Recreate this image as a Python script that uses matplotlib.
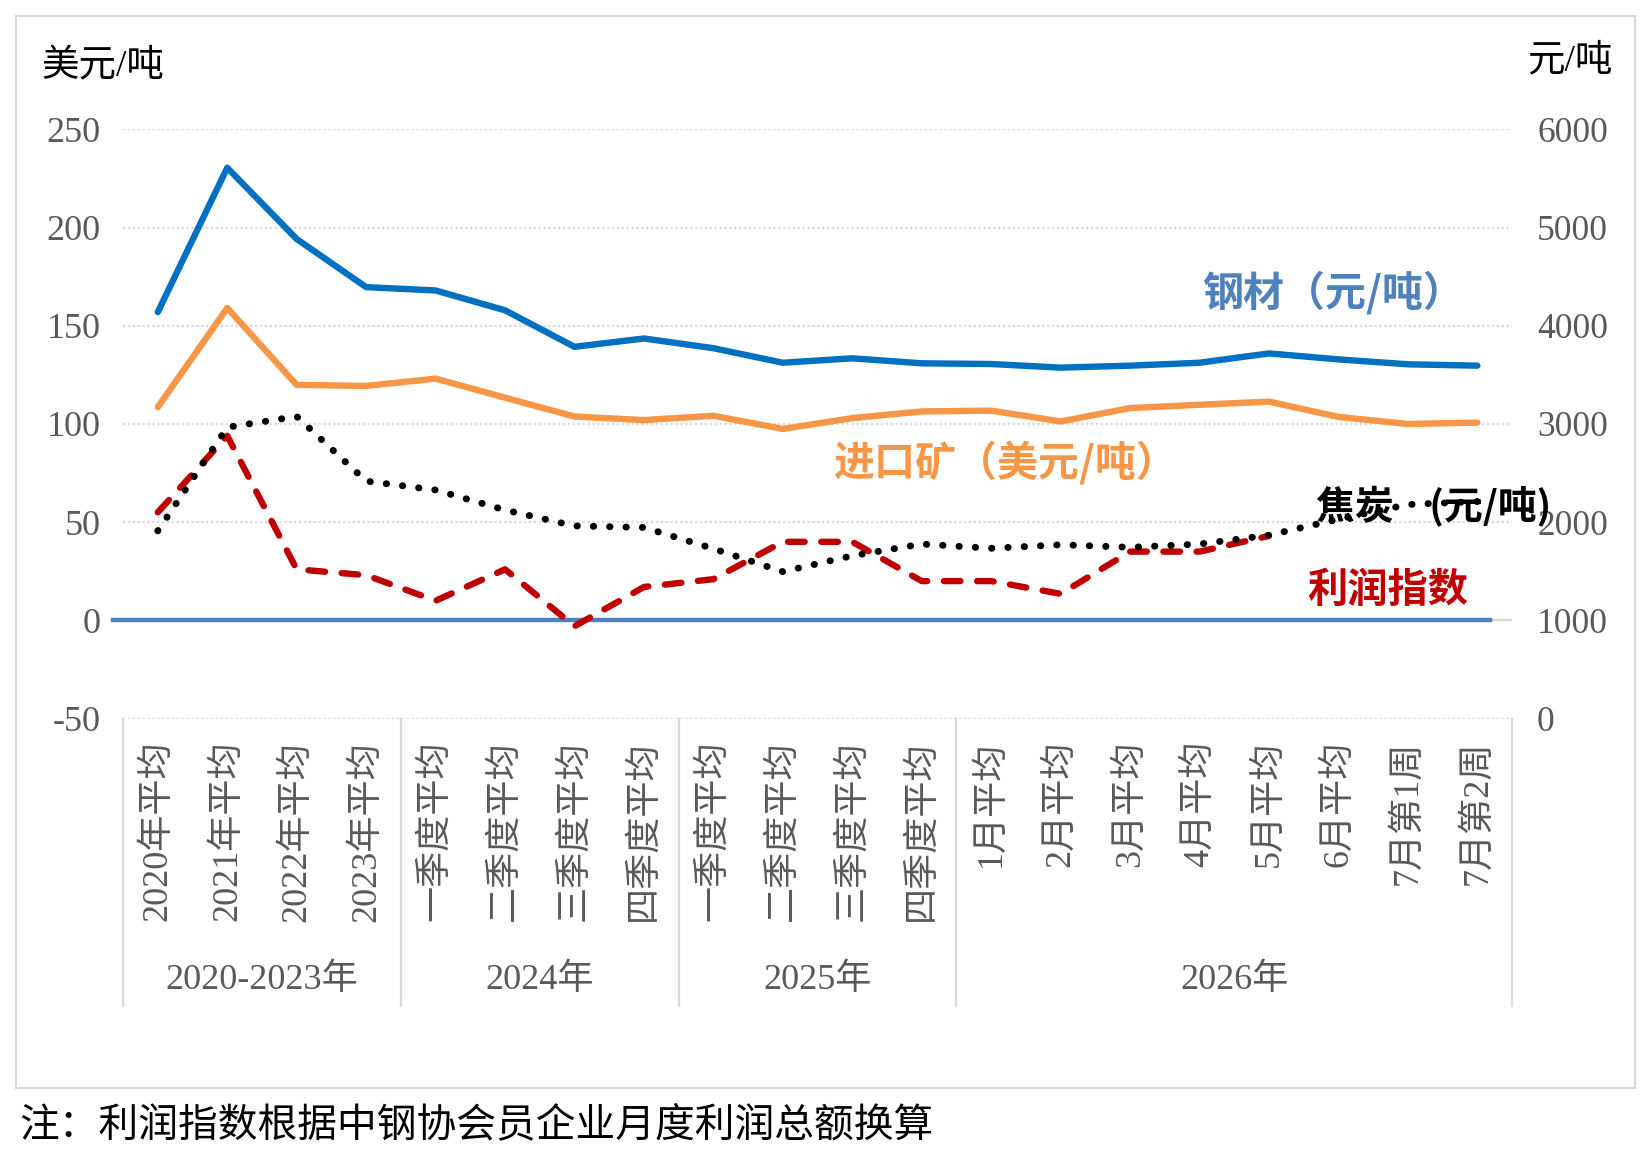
import numpy as np
import matplotlib.pyplot as plt
from matplotlib.patches import Rectangle

# ------------------------------------------------------------------
# Data
# ------------------------------------------------------------------
categories = ["2020年平均", "2021年平均", "2022年平均", "2023年平均",
              "一季度平均", "二季度平均", "三季度平均", "四季度平均",
              "一季度平均", "二季度平均", "三季度平均", "四季度平均",
              "1月平均", "2月平均", "3月平均", "4月平均", "5月平均", "6月平均",
              "7月第1周", "7月第2周"]
groups = ["2020-2023年", "2024年", "2025年", "2026年"]
group_sizes = [4, 4, 4, 8]

# right axis (元/吨)
steel = [4140, 5610, 4884, 4394, 4360, 4158, 3786, 3871, 3772, 3624,
         3669, 3618, 3611, 3574, 3594, 3624, 3719, 3658, 3608, 3594]
coke = [1912, 2966, 3077, 2418, 2328, 2124, 1962, 1946, 1730, 1496,
        1658, 1777, 1734, 1770, 1744, 1777, 1868, 2030, 2180, 2210]
# left axis (美元/吨, index)
ore = [108.6, 159.1, 119.9, 119.4, 123.1, 113.4, 103.8, 102.0, 104.2, 97.5,
       103.0, 106.4, 106.8, 101.3, 108.1, 109.8, 111.4, 103.6, 100.0, 100.7]
profit = [55, 94, 26, 23, 10, 26, -3, 17, 21, 40,
          40, 20, 20, 13.5, 35, 35, 43, np.nan, np.nan, np.nan]

left_ticks = [-50, 0, 50, 100, 150, 200, 250]
right_ticks = [0, 1000, 2000, 3000, 4000, 5000, 6000]

SERIF = ["Liberation Serif", "Noto Sans CJK SC"]
SANS = ["Noto Sans CJK SC", "DejaVu Sans"]
plt.rcParams["font.family"] = SERIF
plt.rcParams["axes.unicode_minus"] = False
GRAY = "#595959"
LIGHT = "#D9D9D9"

fig = plt.figure(figsize=(16.52, 11.61), dpi=100)
ax = fig.add_axes([0.0745, 0.3811, 0.8408, 0.5074])
ax2 = ax.twinx()

x = np.arange(len(categories))

# ------------------------------------------------------------------
# Axes styling
# ------------------------------------------------------------------
ax.set_xlim(-0.5, len(categories) - 0.5)
ax.set_ylim(-50, 250)
ax2.set_ylim(0, 6000)
ax.set_yticks(left_ticks)
ax2.set_yticks(right_ticks)
for a in (ax, ax2):
    for s in a.spines.values():
        s.set_visible(False)
ax.tick_params(axis="y", length=0, pad=16, labelsize=26, labelcolor=GRAY)
ax2.tick_params(axis="y", length=0, pad=18, labelsize=25.5, labelcolor=GRAY)
ax.yaxis.grid(True, linestyle=(0, (1, 1.2)), color=LIGHT, lw=1.6)
ax.set_axisbelow(True)

ax.set_xticks(x)
ax.set_xticklabels(categories, rotation=90, va="top", ha="center",
                   fontsize=26, color=GRAY)
ax.tick_params(axis="x", length=0, pad=16)

# solid axis line at zero plus the blue zero line
ax.axhline(0, color=LIGHT, lw=1.6, zorder=1)
ax.axhline(0, xmin=-0.0072, xmax=0.984, color="#4F81BD", lw=3.2,
           zorder=2, clip_on=False)

# group separators and group labels below the axis
xt = ax.get_xaxis_transform()
bounds = np.concatenate([[0], np.cumsum(group_sizes)]) - 0.5
for b in bounds:
    ax.plot([b, b], [0, -0.488], transform=xt, color=LIGHT, lw=1.6,
            clip_on=False)
for g, lo, hi in zip(groups, bounds[:-1], bounds[1:]):
    ax.text((lo + hi) / 2, -0.445, g, transform=xt, ha="center",
            va="center", fontsize=26, color=GRAY)

# ------------------------------------------------------------------
# Series
# ------------------------------------------------------------------
ax2.plot(x, steel, color="#0070C0", lw=4.6, solid_capstyle="round",
         solid_joinstyle="round", zorder=3)
ax.plot(x, ore, color="#F79646", lw=4.6, solid_capstyle="round",
        solid_joinstyle="round", zorder=3)
ax.plot(x, profit, color="#C00000", lw=4.6, linestyle=(0, (2.6, 2.6)),
        dash_capstyle="round", zorder=4)
ax2.plot(x, coke, color="black", lw=5.0, linestyle=(0, (0.05, 2.3)),
         dash_capstyle="round", zorder=5)
ax2.set_zorder(ax.get_zorder() + 1)
ax2.patch.set_visible(False)

# series labels
ax.text(16.92, 167, "钢材（元/吨）", family=SANS, weight="bold",
        fontsize=29.5, color="#4F81BD", ha="center", va="center")
ax.text(12.2, 80.4, "进口矿（美元/吨）", family=SANS, weight="bold",
        fontsize=29.5, color="#F79646", ha="center", va="center")
ax2.text(18.37, 2172, "焦炭    (元/吨)", family=SANS, weight="bold",
         fontsize=28, color="black", ha="center", va="center", zorder=6)
ax.text(17.71, 15, "利润指数", family=SANS, weight="bold",
        fontsize=29, color="#C00000", ha="center", va="center")

# unit labels
fig.text(0.0254, 0.943, "美元/吨", fontsize=27, color="black",
         ha="left", va="center")
fig.text(0.9760, 0.947, "元/吨", fontsize=27, color="black",
         ha="right", va="center")

# outer frame and note
fig.add_artist(Rectangle((0.0097, 0.0629), 0.98, 0.9233,
                         transform=fig.transFigure, fill=False,
                         ec=LIGHT, lw=1.6))
fig.text(0.0115, 0.0293, "注：利润指数根据中钢协会员企业月度利润总额换算",
         fontsize=28.6, color="black", ha="left", va="center")

fig.savefig("out.png", dpi=100)
